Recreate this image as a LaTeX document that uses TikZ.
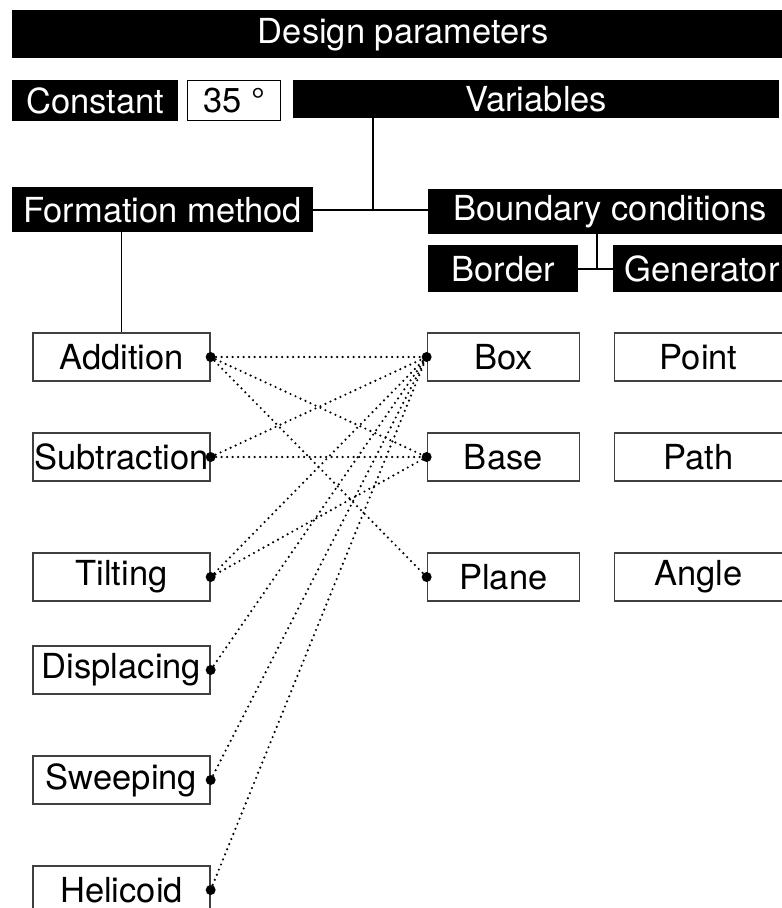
\documentclass[tikz,border=0pt]{standalone}
\usepackage{fontspec}
\setmainfont{TeX Gyre Heros}
\usetikzlibrary{positioning}

\begin{document}
\begin{tikzpicture}[
    x=1pt, y=-1pt,
    node distance=34pt,
    font=\fontsize{34.5}{38}\selectfont,
    bar/.style={rectangle, fill=black, text=white, inner sep=0pt, anchor=north west},
    item/.style={rectangle, draw=black!75, line width=1.3pt, fill=white, inner sep=0pt, minimum width=177pt, minimum height=48pt},
    link/.style={line width=1.6pt},
    dotlink/.style={line width=2.4pt, line cap=round, dash pattern=on 0pt off 5.5pt}
]
\useasboundingbox (0,0) rectangle (782,908);
\clip (0,0) rectangle (782,908);

% Header rows
\node[bar, minimum width=782pt, minimum height=48pt] (design) at (12,10) {Design parameters};
\node[bar, minimum width=166pt, minimum height=41pt] (constant) at (12,80) {Constant};
\node[rectangle, draw=black, line width=1.3pt, anchor=north west, inner sep=0pt, minimum width=93pt, minimum height=40pt] (value) at (187,80) {35 °};
\node[bar, minimum width=486pt, minimum height=38pt] (variables) at (293,80) {Variables};

% Variables split
\node[bar, minimum width=301pt, minimum height=45pt] (formation) at (12,187) {Formation method};
\node[bar, minimum width=364pt, minimum height=45pt] (boundary) at (428,189) {Boundary conditions};
\node[bar, minimum width=150pt, minimum height=47pt] (border) at (428,245) {Border};
\node[bar, minimum width=178pt, minimum height=47pt] (generator) at (613,245) {Generator};

% Formation methods
\node[item] (add) at (121.5,357) {Addition};
\node[item] (sub) at (121.5,457) {Subtraction};
\node[item] (tilt) at (121.5,577) {Tilting};
\node[item] (disp) at (121.5,670) {Displacing};
\node[item] (sweep) at (121.5,780) {Sweeping};
\node[item] (heli) at (121.5,890) {Helicoid};

% Borders and generators
\node[item, minimum width=152pt, right=216pt of add] (box) {Box};
\node[item, minimum width=152pt, right=216pt of sub] (base) {Base};
\node[item, minimum width=152pt, right=216pt of tilt] (plane) {Plane};
\node[item, minimum width=168pt, right=of box] (point) {Point};
\node[item, minimum width=168pt, right=of base] (gpath) {Path};
\node[item, minimum width=168pt, right=of plane] (gangle) {Angle};

% Tree lines
\coordinate (join) at (373,209);
\coordinate (split) at (597,268);
\draw[link] (formation.east) -- (formation.east -| boundary.west);
\draw[link] (variables.south -| join) -- (join);
\draw[link] (border.east) -- (generator.west);
\draw[link] (boundary.south -| split) -- (border.east -| split);
\draw[link] (formation.south -| add.north) -- (add.north);

% Dotted links
\foreach \a/\b in {add/box, add/base, add/plane, sub/box, sub/base, tilt/box, tilt/base, disp/box, sweep/box, heli/box} {
    \draw[dotlink] (\a.east) -- (\b.west);
}
\foreach \n in {add,sub,tilt,disp,sweep,heli} {
    \fill (\n.east) circle (5pt);
}
\foreach \n in {box,base,plane} {
    \fill (\n.west) circle (5pt);
}

\end{tikzpicture}
\end{document}
